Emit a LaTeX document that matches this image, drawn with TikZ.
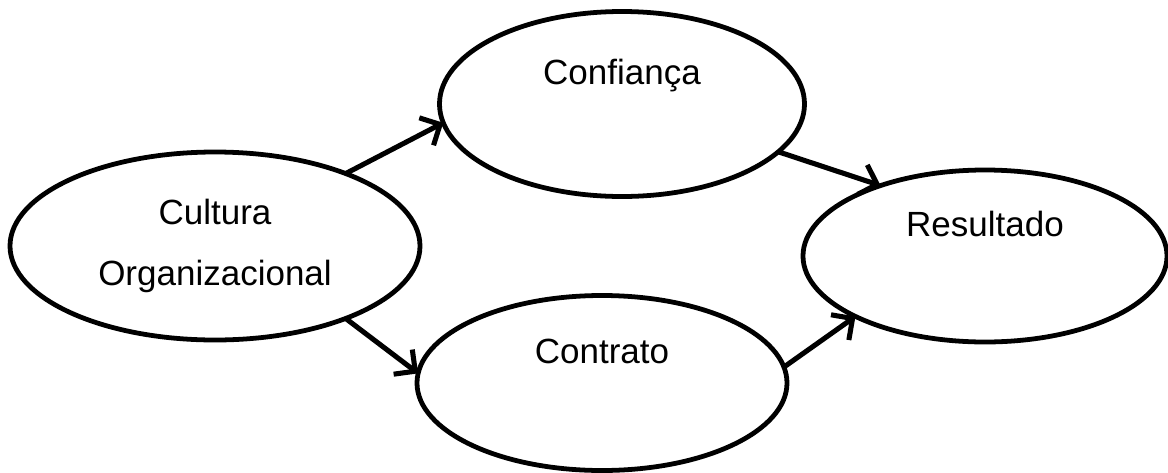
\documentclass[tikz,border=0pt]{standalone}
\usepackage{fontspec}
\setmainfont{Liberation Sans}
\usetikzlibrary{shapes.geometric,arrows.meta}
\begin{document}
\begin{tikzpicture}[
  bubble/.style={ellipse,draw,line width=3.4pt,outer sep=0pt,inner sep=0pt,
    font=\fontsize{24.9}{43.4}\selectfont},
  uptext/.style={text height=18pt,text depth=46pt},
  seta/.style={line width=3.6pt,-{Straight Barb[length=11pt,width=22pt]}}
]
\useasboundingbox (0,0) rectangle (29.2,-11.8);
\node[bubble,align=center,minimum width=10.25cm,minimum height=4.7cm] (cultura) at (5.375,-6.15) {Cultura\\Organizacional};
\node[bubble,uptext,minimum width=9.125cm,minimum height=4.625cm] (confianca) at (15.55,-2.6) {Confiança};
\node[bubble,uptext,minimum width=9.25cm,minimum height=4.375cm] (contrato) at (15.05,-9.575) {Contrato};
\node[bubble,uptext,minimum width=9.1cm,minimum height=4.3cm] (resultado) at (24.625,-6.4) {Resultado};
\draw[seta] (cultura.29) -- (confianca.186);
\draw[seta] (cultura.-29) -- (contrato.177);
\draw[seta] (confianca.-17) -- (resultado.146);
\draw[seta] (contrato.5) -- (resultado.205);
\end{tikzpicture}
\end{document}
